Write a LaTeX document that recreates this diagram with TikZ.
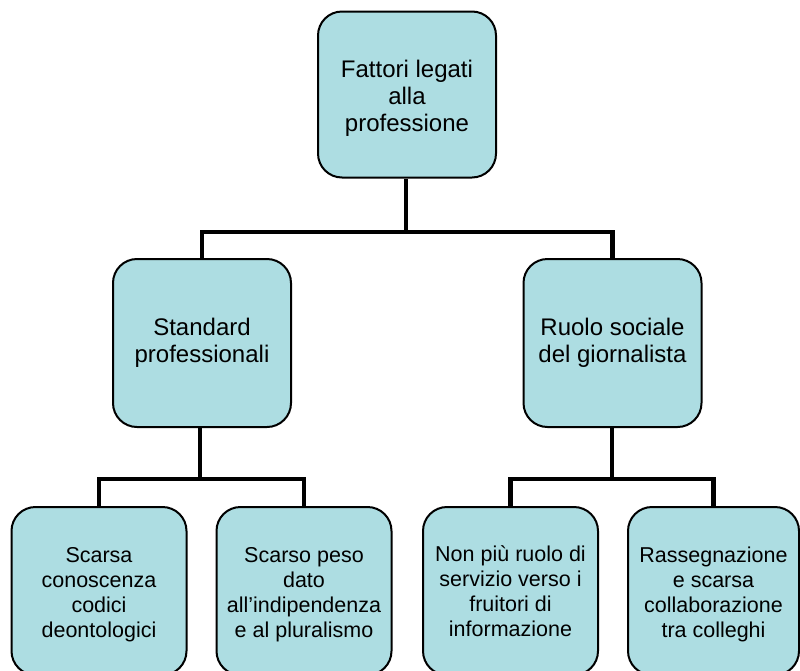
\documentclass[tikz,border=0pt]{standalone}
\usepackage{fontspec}
\setmainfont{Liberation Sans}
\definecolor{boxfill}{RGB}{173,221,226}
\newcommand\btxt[2]{\raisebox{0pt}[\dimexpr\height+#1+#1\relax][\depth]{\begin{tabular}{@{}c@{}}#2\end{tabular}}}
\tikzset{
  orgbox/.style={draw=black, line width=2pt, fill=boxfill, rounded corners=24pt,
    minimum width=178pt, minimum height=166pt, align=center, inner sep=0pt,
    font=\fontsize{24}{27}\selectfont},
  leafbox/.style={orgbox, minimum width=175pt, minimum height=168pt,
    font=\fontsize{21.5}{24.7}\selectfont},
  conn/.style={draw=black, line width=4.5pt}
}
\begin{document}
\begin{tikzpicture}[x=1pt,y=-1pt]
\useasboundingbox (0,0) rectangle (800,670);
\clip (0,0) rectangle (800,670);
% boxes
\node[orgbox] (top) at (407,94.5) {\btxt{5pt}{Fattori legati\\alla\\professione}};
\node[orgbox, minimum height=168pt] (sp) at (202,343) {\btxt{1pt}{Standard\\professionali}};
\node[orgbox, minimum height=168pt] (rs) at (612.5,343) {\btxt{1pt}{Ruolo sociale\\del giornalista}};
% junctions
\coordinate (j0) at (406,232);
\coordinate (j1) at (200,479);
\coordinate (j2) at (612,479);
% leaf boxes
\node[leafbox] (l1) at (99,591) {\btxt{4pt}{Scarsa\\conoscenza\\codici\\deontologici}};
\node[leafbox] (l2) at (304,591) {\btxt{4pt}{Scarso peso\\dato\\all’indipendenza\\e al pluralismo}};
\node[leafbox] (l3) at (510.5,591) {\btxt{3pt}{Non più ruolo di\\servizio verso i\\fruitori di\\informazione}};
\node[leafbox, minimum width=171pt] (l4) at (713.5,591) {\btxt{4pt}{Rassegnazione\\e scarsa\\collaborazione\\tra colleghi}};
% connectors
\draw[conn] (top.south -| j0) -- (j0);
\draw[conn] (j0) -| (sp.north);
\draw[conn] (j0) -| (rs.north);
\draw[conn] (sp.south -| j1) -- (j1);
\draw[conn] (j1) -| (l1.north);
\draw[conn] (j1) -| (l2.north);
\draw[conn] (rs.south -| j2) -- (j2);
\draw[conn] (j2) -| (l3.north);
\draw[conn] (j2) -| (l4.north);
\end{tikzpicture}
\end{document}
